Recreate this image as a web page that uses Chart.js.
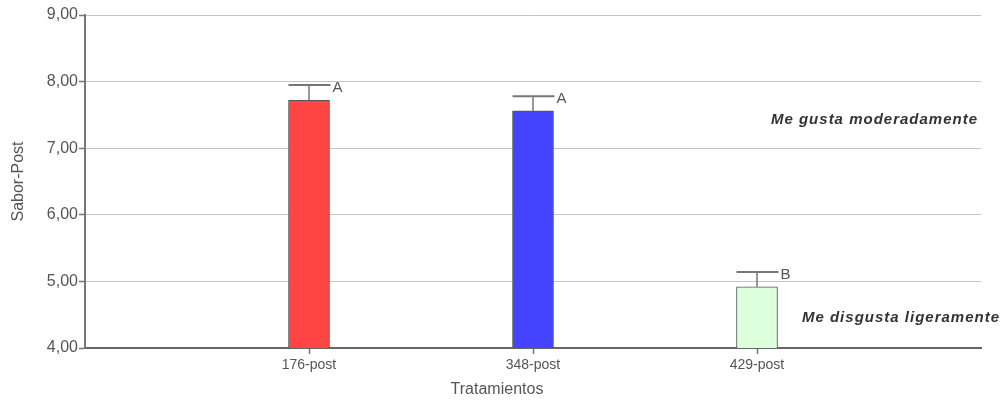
<!DOCTYPE html>
<html>
<head>
<meta charset="utf-8">
<script src="https://cdn.jsdelivr.net/npm/chart.js@4"></script>
<style>
  html, body { margin: 0; padding: 0; background: #fff; }
  #wrap { width: 1005px; height: 400px; }
</style>
</head>
<body>
<div id="wrap"><canvas id="c" width="1005" height="400"></canvas></div>
<script>
// ---- data ----
const categories = ['176-post', '348-post', '429-post'];
const means = [7.72, 7.56, 4.92];
const errors = [0.23, 0.22, 0.22];
const letters = ['A', 'A', 'B'];
const barColors = ['#ff4444', '#4444ff', '#dcffdc'];
const yTicks = [4, 5, 6, 7, 8, 9];
const notes = [
  { text: 'Me gusta moderadamente', value: 7.43, right: 978 },
  { text: 'Me disgusta ligeramente', value: 4.45, right: 1000 }
];
const yTitle = 'Sabor-Post';
const xTitle = 'Tratamientos';

// padded labels: empty slot before and after
const labels = [''].concat(categories, ['']);
const values = [null].concat(means, [null]);
const colors = ['transparent'].concat(barColors, ['transparent']);

const FONT = '"Liberation Sans", Arial, sans-serif';

const extras = {
  id: 'extras',
  afterDatasetsDraw(chart) {
    const ctx = chart.ctx;
    const y = chart.scales.y;
    const meta = chart.getDatasetMeta(0);
    ctx.save();
    categories.forEach((c, i) => {
      const el = meta.data[i + 1];
      const cx = el.x;
      const half = el.width / 2;
      const yTop = y.getPixelForValue(means[i]);
      const yErr = y.getPixelForValue(means[i] + errors[i]);
      ctx.strokeStyle = '#777';
      ctx.lineWidth = 1.5;
      ctx.beginPath();
      ctx.moveTo(cx, yTop);
      ctx.lineTo(cx, yErr);
      ctx.stroke();
      ctx.lineWidth = 2;
      ctx.beginPath();
      ctx.moveTo(cx - half, yErr);
      ctx.lineTo(cx + half + 1, yErr);
      ctx.stroke();
      ctx.fillStyle = '#555';
      ctx.font = '15px ' + FONT;
      ctx.textAlign = 'left';
      ctx.textBaseline = 'middle';
      ctx.fillText(letters[i], cx + half + 3, yErr + 3);
    });
    // notes
    ctx.fillStyle = '#333';
    ctx.font = 'italic bold 15px ' + FONT;
    ctx.letterSpacing = '1px';
    ctx.textAlign = 'right';
    ctx.textBaseline = 'middle';
    notes.forEach(n => {
      ctx.fillText(n.text, n.right, y.getPixelForValue(n.value));
    });
    ctx.letterSpacing = '0px';
    // axis titles
    ctx.fillStyle = '#555';
    ctx.font = '16px ' + FONT;
    ctx.textAlign = 'center';
    ctx.textBaseline = 'middle';
    ctx.fillText(xTitle, 497, 390);
    ctx.translate(19, (y.top + y.bottom) / 2);
    ctx.rotate(-Math.PI / 2);
    ctx.fillText(yTitle, 0, 0);
    ctx.restore();
  }
};

new Chart(document.getElementById('c'), {
  type: 'bar',
  data: {
    labels: labels,
    datasets: [{
      data: values,
      backgroundColor: colors,
      borderColor: '#555',
      borderWidth: 1,
      barThickness: 41
    }]
  },
  options: {
    responsive: false,
    animation: false,
    layout: { padding: { top: 15, right: 24, left: 0, bottom: 0 } },
    plugins: { legend: { display: false }, tooltip: { enabled: false } },
    scales: {
      x: {
        type: 'category',
        offset: false,
        afterFit: s => { s.height = 52; },
        grid: {
          display: true,
          offset: false,
          drawOnChartArea: false,
          drawTicks: true,
          tickLength: 6,
          tickColor: ctx => (ctx.index === 0 || ctx.index === labels.length - 1) ? 'rgba(0,0,0,0)' : '#777',
          tickWidth: 1.5
        },
        border: { display: true, color: '#666', width: 2 },
        ticks: {
          color: '#555',
          font: { family: FONT, size: 14 },
          padding: 3,
          maxRotation: 0,
          autoSkip: false
        }
      },
      y: {
        min: 4,
        max: 9,
        afterFit: s => { s.width = 85; },
        afterBuildTicks: s => { s.ticks = yTicks.map(v => ({ value: v })); },
        grid: {
          color: '#c4c4c4',
          lineWidth: 1,
          tickLength: 6,
          tickColor: '#777',
          tickWidth: 1.5
        },
        border: { display: true, color: '#777', width: 2 },
        ticks: {
          color: '#555',
          font: { family: FONT, size: 16 },
          padding: 1,
          callback: v => v.toFixed(2).replace('.', ',')
        }
      }
    }
  },
  plugins: [extras]
});
</script>
</body>
</html>
